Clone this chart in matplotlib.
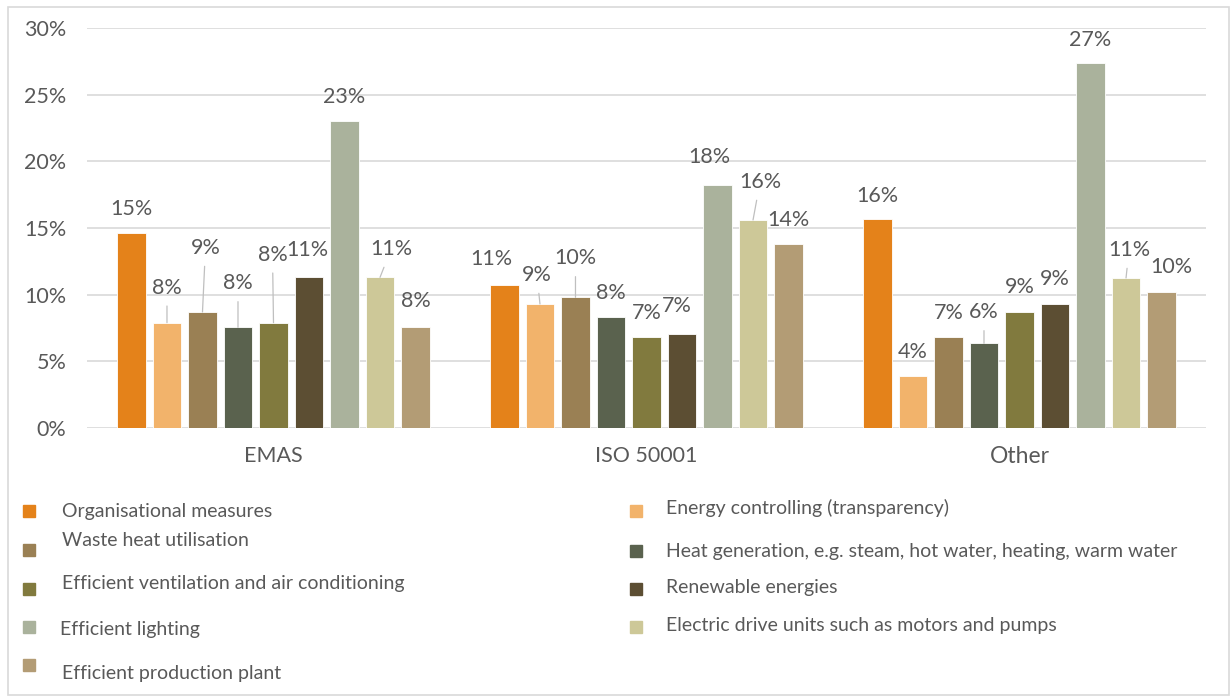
import matplotlib
matplotlib.use("Agg")
import matplotlib.pyplot as plt
from matplotlib.patches import Rectangle

# ---------------- data ----------------
categories = ["EMAS", "ISO 50001", "Other"]
series = [
    "Organisational measures",
    "Energy controlling (transparency)",
    "Waste heat utilisation",
    "Heat generation, e.g. steam, hot water, heating, warm water",
    "Efficient ventilation and air conditioning",
    "Renewable energies",
    "Efficient lighting",
    "Electric drive units such as motors and pumps",
    "Efficient production plant",
]
emas = [14.6, 7.9, 8.7, 7.55, 7.9, 11.3, 23.0, 11.3, 7.55]
iso50001 = [10.7, 9.3, 9.8, 8.3, 6.8, 7.05, 18.2, 15.6, 13.8]
other = [15.7, 3.9, 6.8, 6.35, 8.7, 9.3, 27.4, 11.25, 10.2]
yticks = [0, 5, 10, 15, 20, 25, 30]

# ---------------- styles ----------------
colors = ["#E4821A", "#F2B36B", "#9A8054", "#5A624E", "#817A3E",
          "#5C4E33", "#AAB29C", "#CDC898", "#B39C75"]
TXT = "#595959"
GRID = "#D9D9D9"
FONT = "Lato"
FS = 15.5
LEG_FS = 14

W, H = 1231, 697
fig = plt.figure(figsize=(W / 100, H / 100), dpi=100)
fig.patch.set_facecolor("white")

# axes placement in pixels
ax_l, ax_r, ax_t, ax_b = 87, 1206, 28, 428
ax = fig.add_axes([ax_l / W, 1 - ax_b / H, (ax_r - ax_l) / W, (ax_b - ax_t) / H])

pitch = 0.0952
width = 0.077
groups = [emas, iso50001, other]

# label offsets in pixels (dx, dy) and leader flag, per group/bar
offsets = [
    [(0, 24, 0), (0, 35, 1), (3, 64, 1), (0, 44, 1), (-1, 68, 1), (-2, 27, 0), (0, 24, 0), (11, 28, 1), (0, 26, 0)],
    [(-13, 26, 0), (-3, 29, 1), (0, 39, 1), (0, 24, 0), (0, 24, 0), (-5, 28, 0), (-8, 28, 0), (7, 38, 1), (0, 24, 0)],
    [(0, 23, 0), (0, 24, 0), (0, 24, 0), (0, 31, 1), (0, 25, 0), (0, 25, 0), (0, 23, 0), (3, 28, 1), (10, 25, 0)],
]

for j, name in enumerate(series):
    xs = [i + (j - 4) * pitch for i in range(len(categories))]
    vals = [g[j] for g in groups]
    ax.bar(xs, vals, width=width, color=colors[j], edgecolor="white",
           linewidth=0.6, zorder=3, label=name)
    for i, (x, v) in enumerate(zip(xs, vals)):
        dx, dy, lead = offsets[i][j]
        kw = {}
        if lead:
            kw["arrowprops"] = dict(arrowstyle="-", color="#BFBFBF", lw=0.9,
                                    shrinkA=4, shrinkB=0)
        ax.annotate(f"{v:.0f}%", xy=(x, v), xytext=(dx, dy),
                    textcoords="offset pixels", ha="center", va="center",
                    fontsize=FS, color=TXT, family=FONT, zorder=5, **kw)

ax.set_xlim(-0.5, 2.5)
ax.set_ylim(0, 30)
ax.set_yticks(yticks)
ax.set_yticklabels([f"{t}%" for t in yticks], fontsize=FS, color=TXT, family=FONT)
ax.set_xticks(range(len(categories)))
ax.set_xticklabels(categories, fontsize=FS, color=TXT, family=FONT)
ax.get_xticklabels()[2].set_fontsize(16.5)
ax.tick_params(axis="y", length=0, pad=15)
ax.tick_params(axis="x", length=0, pad=13)
for s in ax.spines.values():
    s.set_visible(False)
ax.grid(axis="y", color=GRID, lw=1.2, zorder=0)
ax.set_axisbelow(True)

# ---------------- legend (manual) ----------------
def fx(x):
    return x / W

def fy(y):
    return 1 - y / H

left_idx = [0, 2, 4, 6, 8]
right_idx = [1, 3, 5, 7]
left_marker_y = [511, 550, 589, 627, 665]
left_text_y = [511, 541, 584, 629, 673]
right_marker_y = [511, 551, 589, 627]
right_text_y = [508, 552, 587, 625]
msz = 12

for k, j in enumerate(left_idx):
    fig.add_artist(Rectangle((fx(23), fy(left_marker_y[k] + msz / 2)), msz / W, msz / H,
                             transform=fig.transFigure, color=colors[j]))
    fig.text(fx(62 if j != 6 else 60), fy(left_text_y[k]), series[j], fontsize=LEG_FS,
             color=TXT, family=FONT, va="center", ha="left")
for k, j in enumerate(right_idx):
    fig.add_artist(Rectangle((fx(630), fy(right_marker_y[k] + msz / 2)), msz / W, msz / H,
                             transform=fig.transFigure, color=colors[j]))
    fig.text(fx(666), fy(right_text_y[k]), series[j], fontsize=LEG_FS,
             color=TXT, family=FONT, va="center", ha="left")

# outer frame
fig.add_artist(Rectangle((fx(8), fy(695)), (1229 - 8) / W, (695 - 7) / H,
                         transform=fig.transFigure, fill=False, edgecolor="#D9D9D9", lw=1.2))

fig.savefig("out.png", dpi=100, facecolor="white")
